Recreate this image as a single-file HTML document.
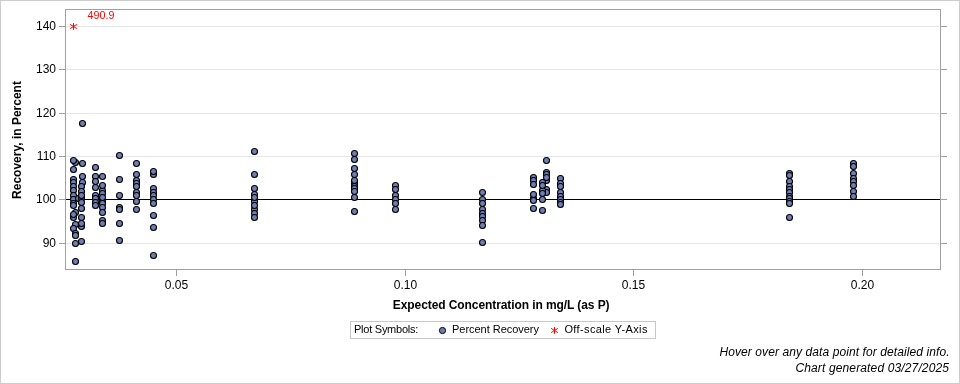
<!DOCTYPE html>
<html><head><meta charset="utf-8"><style>
html,body{margin:0;padding:0;background:#fff;}
svg{display:block;font-family:"Liberation Sans",sans-serif;}
svg{will-change:transform}
</style></head><body>
<svg width="960" height="384" viewBox="0 0 960 384">
<rect x="0" y="0" width="960" height="384" fill="#fff"/>
<rect x="0.5" y="0.5" width="959" height="383" fill="none" stroke="#cdcdcd" stroke-width="1"/>
<g stroke="#e6e6e6" stroke-width="1">
<line x1="66" y1="26.5" x2="939" y2="26.5"/>
<line x1="66" y1="69.5" x2="939" y2="69.5"/>
<line x1="66" y1="113.5" x2="939" y2="113.5"/>
<line x1="66" y1="156.5" x2="939" y2="156.5"/>
<line x1="66" y1="243.5" x2="939" y2="243.5"/>
</g>
<line x1="66" y1="199.5" x2="940" y2="199.5" stroke="#000" stroke-width="1"/>
<g stroke="#a0a0a0" stroke-width="1">
<line x1="59" y1="26.5" x2="65" y2="26.5"/><line x1="941" y1="26.5" x2="947" y2="26.5"/>
<line x1="59" y1="69.5" x2="65" y2="69.5"/><line x1="941" y1="69.5" x2="947" y2="69.5"/>
<line x1="59" y1="113.5" x2="65" y2="113.5"/><line x1="941" y1="113.5" x2="947" y2="113.5"/>
<line x1="59" y1="156.5" x2="65" y2="156.5"/><line x1="941" y1="156.5" x2="947" y2="156.5"/>
<line x1="59" y1="199.5" x2="65" y2="199.5"/><line x1="941" y1="199.5" x2="947" y2="199.5"/>
<line x1="59" y1="243.5" x2="65" y2="243.5"/><line x1="941" y1="243.5" x2="947" y2="243.5"/>
<line x1="176.5" y1="270" x2="176.5" y2="276"/>
<line x1="405.5" y1="270" x2="405.5" y2="276"/>
<line x1="633.5" y1="270" x2="633.5" y2="276"/>
<line x1="862.5" y1="270" x2="862.5" y2="276"/>
</g>
<rect x="65.5" y="9.5" width="875" height="260" fill="none" stroke="#a0a0a0" stroke-width="1"/>
<g font-size="12" fill="#000" text-anchor="end">
<text x="56" y="30.3">140</text>
<text x="56" y="73.3">130</text>
<text x="56" y="117.3">120</text>
<text x="56" y="160.3">110</text>
<text x="56" y="203.3">100</text>
<text x="56" y="247.3">90</text>
</g>
<g font-size="12" fill="#000" text-anchor="middle">
<text x="176.5" y="289">0.05</text>
<text x="405.5" y="289">0.10</text>
<text x="633.5" y="289">0.15</text>
<text x="862.5" y="289">0.20</text>
</g>
<text x="501.2" y="309" font-size="12" font-weight="bold" text-anchor="middle" textLength="216.8" lengthAdjust="spacing">Expected Concentration in mg/L (as P)</text>
<text transform="translate(21,140) rotate(-90)" font-size="12" font-weight="bold" text-anchor="middle">Recovery, in Percent</text>
<path d="M73.5 23.1L73.5 29.9M70.1 24.4L76.9 28.6M70.1 28.6L76.9 24.4" stroke="#ff0000" stroke-width="1.0" fill="none"/>
<text transform="translate(87.6,18.9)" x="0" y="0" font-size="10" fill="#ff0000" textLength="26.8" lengthAdjust="spacingAndGlyphs">490.9</text>
<g fill="#6f7eb5" stroke="#000" stroke-width="1.1">
<circle cx="75.5" cy="162.5" r="3.0"/>
<circle cx="73.5" cy="160.5" r="3.0"/>
<circle cx="73.5" cy="169.5" r="3.0"/>
<circle cx="73.5" cy="179.5" r="3.0"/>
<circle cx="73.5" cy="182.5" r="3.0"/>
<circle cx="73.5" cy="186.5" r="3.0"/>
<circle cx="73.5" cy="190.5" r="3.0"/>
<circle cx="73.5" cy="195.5" r="3.0"/>
<circle cx="73.5" cy="199.5" r="3.0"/>
<circle cx="73.5" cy="203.5" r="3.0"/>
<circle cx="82.5" cy="123.5" r="3.0"/>
<circle cx="82.5" cy="163.5" r="3.0"/>
<circle cx="82.5" cy="176.5" r="3.0"/>
<circle cx="82.5" cy="182.5" r="3.0"/>
<circle cx="78.5" cy="198.5" r="3.0"/>
<circle cx="81.5" cy="186.5" r="3.0"/>
<circle cx="81.5" cy="191.5" r="3.0"/>
<circle cx="81.5" cy="198.5" r="3.0"/>
<circle cx="81.5" cy="202.5" r="3.0"/>
<circle cx="81.5" cy="195.5" r="3.0"/>
<circle cx="75.5" cy="212.5" r="3.0"/>
<circle cx="75.5" cy="224.5" r="3.0"/>
<circle cx="73.5" cy="205.5" r="3.0"/>
<circle cx="73.5" cy="217.5" r="3.0"/>
<circle cx="81.5" cy="208.5" r="3.0"/>
<circle cx="81.5" cy="226.5" r="3.0"/>
<circle cx="73.5" cy="214.5" r="3.0"/>
<circle cx="73.5" cy="228.5" r="3.0"/>
<circle cx="81.5" cy="217.5" r="3.0"/>
<circle cx="81.5" cy="223.5" r="3.0"/>
<circle cx="81.5" cy="241.5" r="3.0"/>
<circle cx="75.5" cy="233.5" r="3.0"/>
<circle cx="75.5" cy="235.5" r="3.0"/>
<circle cx="75.5" cy="243.5" r="3.0"/>
<circle cx="75.5" cy="261.5" r="3.0"/>
<circle cx="95.5" cy="167.5" r="3.0"/>
<circle cx="95.5" cy="176.5" r="3.0"/>
<circle cx="95.5" cy="181.5" r="3.0"/>
<circle cx="95.5" cy="187.5" r="3.0"/>
<circle cx="95.5" cy="195.5" r="3.0"/>
<circle cx="95.5" cy="198.5" r="3.0"/>
<circle cx="95.5" cy="202.5" r="3.0"/>
<circle cx="95.5" cy="205.5" r="3.0"/>
<circle cx="102.5" cy="176.5" r="3.0"/>
<circle cx="102.5" cy="190.5" r="3.0"/>
<circle cx="102.5" cy="193.5" r="3.0"/>
<circle cx="102.5" cy="201.5" r="3.0"/>
<circle cx="102.5" cy="203.5" r="3.0"/>
<circle cx="102.5" cy="207.5" r="3.0"/>
<circle cx="102.5" cy="212.5" r="3.0"/>
<circle cx="102.5" cy="220.5" r="3.0"/>
<circle cx="102.5" cy="223.5" r="3.0"/>
<circle cx="102.5" cy="185.5" r="3.0"/>
<circle cx="102.5" cy="197.5" r="3.0"/>
<circle cx="119.5" cy="155.5" r="3.0"/>
<circle cx="119.5" cy="179.5" r="3.0"/>
<circle cx="119.5" cy="195.5" r="3.0"/>
<circle cx="119.5" cy="207.5" r="3.0"/>
<circle cx="119.5" cy="209.5" r="3.0"/>
<circle cx="119.5" cy="223.5" r="3.0"/>
<circle cx="119.5" cy="240.5" r="3.0"/>
<circle cx="136.5" cy="163.5" r="3.0"/>
<circle cx="136.5" cy="174.5" r="3.0"/>
<circle cx="136.5" cy="180.5" r="3.0"/>
<circle cx="136.5" cy="183.5" r="3.0"/>
<circle cx="136.5" cy="186.5" r="3.0"/>
<circle cx="136.5" cy="192.5" r="3.0"/>
<circle cx="136.5" cy="195.5" r="3.0"/>
<circle cx="136.5" cy="201.5" r="3.0"/>
<circle cx="136.5" cy="209.5" r="3.0"/>
<circle cx="153.5" cy="174.5" r="3.0"/>
<circle cx="153.5" cy="171.5" r="3.0"/>
<circle cx="153.5" cy="188.5" r="3.0"/>
<circle cx="153.5" cy="192.5" r="3.0"/>
<circle cx="153.5" cy="195.5" r="3.0"/>
<circle cx="153.5" cy="199.5" r="3.0"/>
<circle cx="153.5" cy="203.5" r="3.0"/>
<circle cx="153.5" cy="215.5" r="3.0"/>
<circle cx="153.5" cy="227.5" r="3.0"/>
<circle cx="153.5" cy="255.5" r="3.0"/>
<circle cx="254.5" cy="194.5" r="3.0"/>
<circle cx="254.5" cy="201.5" r="3.0"/>
<circle cx="254.5" cy="209.5" r="3.0"/>
<circle cx="254.5" cy="213.5" r="3.0"/>
<circle cx="254.5" cy="151.5" r="3.0"/>
<circle cx="254.5" cy="174.5" r="3.0"/>
<circle cx="254.5" cy="188.5" r="3.0"/>
<circle cx="254.5" cy="197.5" r="3.0"/>
<circle cx="254.5" cy="205.5" r="3.0"/>
<circle cx="254.5" cy="217.5" r="3.0"/>
<circle cx="354.5" cy="153.5" r="3.0"/>
<circle cx="354.5" cy="159.5" r="3.0"/>
<circle cx="354.5" cy="168.5" r="3.0"/>
<circle cx="354.5" cy="174.5" r="3.0"/>
<circle cx="354.5" cy="183.5" r="3.0"/>
<circle cx="354.5" cy="186.5" r="3.0"/>
<circle cx="354.5" cy="188.5" r="3.0"/>
<circle cx="354.5" cy="197.5" r="3.0"/>
<circle cx="354.5" cy="211.5" r="3.0"/>
<circle cx="354.5" cy="180.5" r="3.0"/>
<circle cx="354.5" cy="191.5" r="3.0"/>
<circle cx="395.5" cy="185.5" r="3.0"/>
<circle cx="395.5" cy="189.5" r="3.0"/>
<circle cx="395.5" cy="195.5" r="3.0"/>
<circle cx="395.5" cy="199.5" r="3.0"/>
<circle cx="395.5" cy="203.5" r="3.0"/>
<circle cx="395.5" cy="209.5" r="3.0"/>
<circle cx="482.5" cy="192.5" r="3.0"/>
<circle cx="482.5" cy="199.5" r="3.0"/>
<circle cx="482.5" cy="203.5" r="3.0"/>
<circle cx="482.5" cy="209.5" r="3.0"/>
<circle cx="482.5" cy="213.5" r="3.0"/>
<circle cx="482.5" cy="216.5" r="3.0"/>
<circle cx="482.5" cy="220.5" r="3.0"/>
<circle cx="482.5" cy="225.5" r="3.0"/>
<circle cx="482.5" cy="242.5" r="3.0"/>
<circle cx="546.5" cy="160.5" r="3.0"/>
<circle cx="546.5" cy="180.5" r="3.0"/>
<circle cx="546.5" cy="172.5" r="3.0"/>
<circle cx="546.5" cy="174.5" r="3.0"/>
<circle cx="546.5" cy="177.5" r="3.0"/>
<circle cx="546.5" cy="189.5" r="3.0"/>
<circle cx="546.5" cy="192.5" r="3.0"/>
<circle cx="533.5" cy="177.5" r="3.0"/>
<circle cx="533.5" cy="180.5" r="3.0"/>
<circle cx="533.5" cy="184.5" r="3.0"/>
<circle cx="533.5" cy="198.5" r="3.0"/>
<circle cx="533.5" cy="194.5" r="3.0"/>
<circle cx="533.5" cy="200.5" r="3.0"/>
<circle cx="533.5" cy="208.5" r="3.0"/>
<circle cx="542.5" cy="182.5" r="3.0"/>
<circle cx="542.5" cy="190.5" r="3.0"/>
<circle cx="542.5" cy="185.5" r="3.0"/>
<circle cx="542.5" cy="193.5" r="3.0"/>
<circle cx="542.5" cy="199.5" r="3.0"/>
<circle cx="542.5" cy="210.5" r="3.0"/>
<circle cx="560.5" cy="178.5" r="3.0"/>
<circle cx="560.5" cy="183.5" r="3.0"/>
<circle cx="560.5" cy="186.5" r="3.0"/>
<circle cx="560.5" cy="192.5" r="3.0"/>
<circle cx="560.5" cy="196.5" r="3.0"/>
<circle cx="560.5" cy="199.5" r="3.0"/>
<circle cx="560.5" cy="202.5" r="3.0"/>
<circle cx="560.5" cy="204.5" r="3.0"/>
<circle cx="789.5" cy="173.5" r="3.0"/>
<circle cx="789.5" cy="175.5" r="3.0"/>
<circle cx="789.5" cy="181.5" r="3.0"/>
<circle cx="789.5" cy="186.5" r="3.0"/>
<circle cx="789.5" cy="189.5" r="3.0"/>
<circle cx="789.5" cy="192.5" r="3.0"/>
<circle cx="789.5" cy="196.5" r="3.0"/>
<circle cx="789.5" cy="198.5" r="3.0"/>
<circle cx="789.5" cy="201.5" r="3.0"/>
<circle cx="789.5" cy="203.5" r="3.0"/>
<circle cx="789.5" cy="217.5" r="3.0"/>
<circle cx="853.5" cy="163.5" r="3.0"/>
<circle cx="853.5" cy="166.5" r="3.0"/>
<circle cx="853.5" cy="173.5" r="3.0"/>
<circle cx="853.5" cy="178.5" r="3.0"/>
<circle cx="853.5" cy="181.5" r="3.0"/>
<circle cx="853.5" cy="185.5" r="3.0"/>
<circle cx="853.5" cy="191.5" r="3.0"/>
<circle cx="853.5" cy="196.5" r="3.0"/>
</g>
<rect x="350.5" y="321.5" width="305" height="17" fill="none" stroke="#c8c8c8" stroke-width="1"/>
<text x="354" y="333" font-size="11" textLength="64.3" lengthAdjust="spacing">Plot Symbols:</text>
<circle cx="442.5" cy="330.5" r="3.1" fill="#6f7eb5" stroke="#000" stroke-width="1"/>
<text x="452" y="333" font-size="11" textLength="87.0" lengthAdjust="spacing">Percent Recovery</text>
<path d="M554.5 327.1L554.5 333.9M551.1 328.4L557.9 332.6M551.1 332.6L557.9 328.4" stroke="#ff0000" stroke-width="1.0" fill="none"/>
<text x="564.4" y="333" font-size="11" textLength="83.0" lengthAdjust="spacing">Off-scale Y-Axis</text>
<g font-size="12" font-style="italic" text-anchor="end">
<text x="949.6" y="356" textLength="230.2" lengthAdjust="spacing">Hover over any data point for detailed info.</text>
<text x="949" y="372" textLength="153.6" lengthAdjust="spacing">Chart generated 03/27/2025</text>
</g>
</svg>
</body></html>
